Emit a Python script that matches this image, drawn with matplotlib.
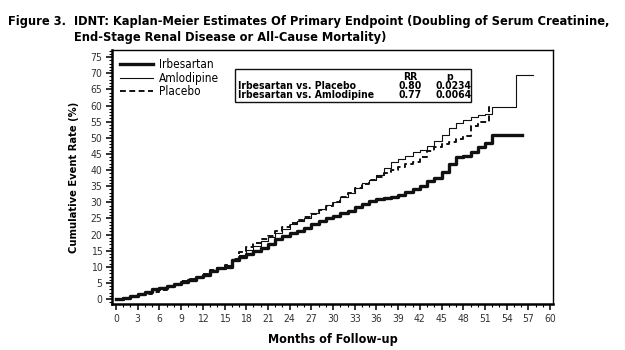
import matplotlib
matplotlib.use('Agg')
import matplotlib.pyplot as plt
from matplotlib.ticker import MultipleLocator

plt.rcParams['font.family'] = ['DejaVu Sans']
plt.rcParams['font.stretch'] = 'condensed'

# Kaplan-Meier curves (month, cumulative event rate %)
irb_m = [0, 1, 2, 3, 4, 5, 6, 7, 8, 9, 10, 11, 12, 13, 14, 15, 16, 17, 18, 19, 20,
         21, 22, 23, 24, 25, 26, 27, 28, 29, 30, 31, 32, 33, 34, 35, 36, 37, 38, 39,
         40, 41, 42, 43, 44, 45, 46, 47, 48, 49, 50, 51, 52, 56.1]
irb_r = [0, 0.5, 1, 1.5, 2.2, 3, 3.6, 4, 4.6, 5.3, 6, 6.8, 7.6, 8.6, 9.5, 10, 12, 13,
         14, 14.8, 16, 17.2, 18.5, 19.5, 20.5, 21.2, 22, 23.2, 24.2, 25, 25.8, 26.6,
         27.3, 28.5, 29.5, 30.3, 30.9, 31.3, 31.8, 32.3, 33.2, 34, 35, 36.5, 37.5,
         39.5, 42, 44, 44.5, 45.5, 47, 48.5, 50.9, 50.9]

aml_m = [0, 1, 2, 3, 4, 5, 6, 7, 8, 9, 10, 11, 12, 13, 14, 15, 16, 17, 18, 19, 20,
         21, 22, 23, 24, 25, 26, 27, 28, 29, 30, 31, 32, 33, 34, 35, 36, 37, 38, 39,
         40, 41, 42, 43, 44, 45, 46, 47, 48, 49, 50, 51, 52, 55.3, 57.6]
aml_r = [0, 0.5, 1, 1.6, 2.3, 3, 3.7, 4.2, 4.8, 5.5, 6.2, 7, 7.9, 8.9, 9.8, 10.5,
         12.3, 13.8, 15.2, 16.5, 18, 19.3, 20.5, 21.8, 23.2, 24.2, 25.3, 26.8, 28,
         29.2, 30.2, 31.5, 33, 34.5, 36, 37, 38.5, 40.5, 42.5, 43.5, 44.5, 45.5, 46.2,
         47.5, 49, 51, 53, 54.5, 55.5, 56.3, 57, 57.3, 59.5, 69.4, 69.4]

pla_m = [0, 1, 2, 3, 4, 5, 6, 7, 8, 9, 10, 11, 12, 13, 14, 15, 16, 17, 18, 19, 20,
         21, 22, 23, 24, 25, 26, 27, 28, 29, 30, 31, 32, 33, 34, 35, 36, 37, 38, 39,
         40, 41, 42, 43, 44, 45, 46, 47, 48, 49, 50, 51.5, 52]
pla_r = [0, 0.4, 0.8, 1.2, 1.7, 2.2, 2.9, 4.0, 4.8, 5.5, 6.2, 7, 7.9, 8.9, 9.8, 10.5,
         12.5, 14.5, 16.3, 17.5, 18.5, 19.7, 21, 22.3, 23.5, 24.5, 25.5, 26.5, 27.6,
         28.8, 30, 31.5, 33, 34.5, 35.8, 37, 38, 39, 40, 41, 41.8, 42.5, 44, 46, 47.3,
         48, 48.8, 49.5, 50.5, 53.5, 55, 59.6, 59.6]

comparisons = ['Irbesartan vs. Placebo', 'Irbesartan vs. Amlodipine']
rr = ['0.80', '0.77']
pvals = ['0.0234', '0.0064']

fig = plt.figure(figsize=(6.25, 3.5), dpi=100)
ax = fig.add_axes([112/625, 1 - 304/350, 441/625, 254/350])

ax.plot(irb_m, irb_r, drawstyle='steps-post', color='#111111', lw=2.4, label='Irbesartan')
ax.plot(aml_m, aml_r, drawstyle='steps-post', color='#111111', lw=0.8, label='Amlodipine')
ax.plot(pla_m, pla_r, drawstyle='steps-post', color='#111111', lw=1.4,
        dashes=(3, 1.8), label='Placebo')

ax.set_xlim(-0.55, 60.4)
ax.set_ylim(-1.5, 77.2)
ax.xaxis.set_major_locator(MultipleLocator(3))
ax.xaxis.set_minor_locator(MultipleLocator(1))
ax.yaxis.set_major_locator(MultipleLocator(5))
ax.yaxis.set_minor_locator(MultipleLocator(1))
ax.tick_params(which='major', length=4, width=1.2, labelsize=7.5, colors='#111111',
               labelcolor='#333333', pad=3)
ax.tick_params(which='minor', length=2, width=0.8)
for s in ['left', 'bottom']:
    ax.spines[s].set_linewidth(1.8)
for s in ['right', 'top']:
    ax.spines[s].set_linewidth(1.0)

ax.set_xlabel('Months of Follow-up', fontsize=9, fontweight='bold', labelpad=7)
ax.set_ylabel('Cumulative Event Rate (%)', fontsize=8, fontweight='bold', labelpad=8)

leg = ax.legend(loc='upper left', frameon=False, fontsize=8.5, handlelength=2.8,
                handletextpad=0.5, labelspacing=0.05, borderaxespad=0.3,
                bbox_to_anchor=(0.0, 1.0))

# RR / p table box
tab = plt.Rectangle((0.279, 0.796), 0.534, 0.129, transform=ax.transAxes,
                    fill=False, lw=1.0, ec='#111111')
ax.add_patch(tab)
ax.text(0.676, 0.894, 'RR', transform=ax.transAxes, ha='center', va='center',
        fontsize=7.5, fontweight='bold')
ax.text(0.765, 0.894, 'p', transform=ax.transAxes, ha='center', va='center',
        fontsize=7.5, fontweight='bold')
for i, (c, r, p) in enumerate(zip(comparisons, rr, pvals)):
    y = 0.858 - i * 0.035
    ax.text(0.285, y, c, transform=ax.transAxes, ha='left', va='center',
            fontsize=7.5, fontweight='bold')
    ax.text(0.676, y, r, transform=ax.transAxes, ha='center', va='center',
            fontsize=7.5, fontweight='bold')
    ax.text(0.775, y, p, transform=ax.transAxes, ha='center', va='center',
            fontsize=7.5, fontweight='bold')

fig.text(8/625, 1 - 21/350, 'Figure 3.', fontsize=9.2, fontweight='bold', va='center')
fig.text(74/625, 1 - 21/350, 'IDNT: Kaplan-Meier Estimates Of Primary Endpoint (Doubling of Serum Creatinine,',
         fontsize=9.2, fontweight='bold', va='center')
fig.text(74/625, 1 - 38/350, 'End-Stage Renal Disease or All-Cause Mortality)',
         fontsize=9.2, fontweight='bold', va='center')

fig.savefig('out.png', dpi=100)
